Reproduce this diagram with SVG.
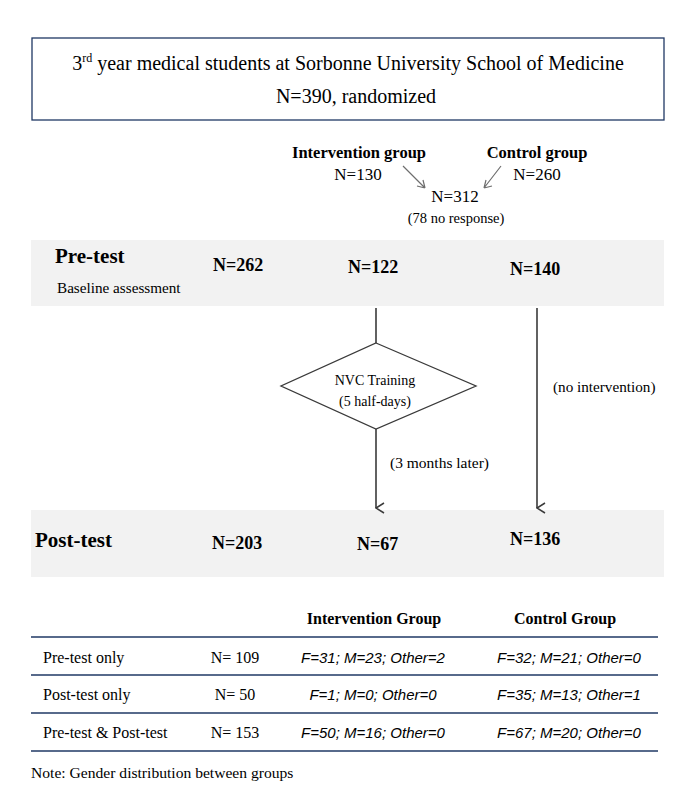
<svg xmlns="http://www.w3.org/2000/svg" width="696" height="811" viewBox="0 0 696 811">
<style>
.s{font-family:"Liberation Serif","Times New Roman",serif;fill:#000}
.b{font-weight:bold}
.i{font-family:"Liberation Sans",Arial,sans-serif;font-style:italic;font-size:15px;fill:#000}
.band{fill:#f2f2f2}
.ln{stroke:#3a3a3a;stroke-width:1.6;fill:none}
.ga{stroke:#6e6e6e;stroke-width:1.2;fill:none}
.rule{stroke:#1f3864;stroke-width:1.3}
</style>
<defs>
<marker id="v" viewBox="0 0 12 10" refX="6" refY="9" markerWidth="12" markerHeight="10" markerUnits="userSpaceOnUse" orient="auto-start-reverse">
<path d="M1,1 L6,9 L11,1" fill="none" stroke="#3a3a3a" stroke-width="1.5"/>
</marker>
</defs>
<rect width="696" height="811" fill="#fff"/>
<g id="top">
<rect x="32" y="38" width="632" height="82" fill="#fff" stroke="#1f3864" stroke-width="1.3"/>
<text class="s" x="348" y="70" font-size="20" text-anchor="middle">3<tspan font-size="12" dy="-8">rd</tspan><tspan dy="8"> year medical students at Sorbonne University School of Medicine</tspan></text>
<text class="s" x="356" y="103" font-size="20" text-anchor="middle">N=390, randomized</text>
</g>
<g id="groups">
<text class="s b" x="359" y="158" font-size="16.5" text-anchor="middle">Intervention group</text>
<text class="s" x="358" y="180" font-size="17" text-anchor="middle">N=130</text>
<text class="s b" x="537" y="158" font-size="16.5" text-anchor="middle">Control group</text>
<text class="s" x="537" y="180" font-size="17" text-anchor="middle">N=260</text>
<text class="s" x="455" y="202" font-size="17" text-anchor="middle">N=312</text>
<text class="s" x="456" y="223" font-size="14.5" text-anchor="middle">(78 no response)</text>
</g>
<g id="pretest">
<rect class="band" x="31" y="240" width="633" height="66"/>
<text class="s b" x="55" y="263" font-size="21">Pre-test</text>
<text class="s" x="57" y="293" font-size="15.2">Baseline assessment</text>
<text class="s b" x="213" y="271" font-size="18">N=262</text>
<text class="s b" x="348" y="273" font-size="18">N=122</text>
<text class="s b" x="510" y="275" font-size="18">N=140</text>
</g>
<g id="training">
<polygon points="376,343 476,386 376,429 281,386" fill="#fff" stroke="#3a3a3a" stroke-width="1.3"/>
<text class="s" x="375" y="385" font-size="14" text-anchor="middle">NVC Training</text>
<text class="s" x="375" y="406" font-size="14" text-anchor="middle">(5 half-days)</text>
</g>
<g id="posttest">
<rect class="band" x="31" y="510" width="633" height="67"/>
<text class="s b" x="35" y="547" font-size="21">Post-test</text>
<text class="s b" x="212" y="549" font-size="18">N=203</text>
<text class="s b" x="357" y="550" font-size="18">N=67</text>
<text class="s b" x="510" y="545" font-size="18">N=136</text>
</g>
<g id="connectors">
<path class="ga" d="M403,166 L425,188 M425,188 L423,180 M425,188 L417,186"/>
<path class="ga" d="M501,166 L484,188 M484,188 L492,186 M484,188 L486,180"/>
<line class="ln" x1="376" y1="308" x2="376" y2="343"/>
<line class="ln" x1="376" y1="429" x2="376" y2="508" marker-end="url(#v)"/>
<line class="ln" x1="537" y1="308" x2="537" y2="508" marker-end="url(#v)"/>
<text class="s" x="390" y="468" font-size="15.5">(3 months later)</text>
<text class="s" x="553" y="392" font-size="15.2">(no intervention)</text>
</g>
<g id="table">
<text class="s b" x="374" y="624" font-size="16" text-anchor="middle">Intervention Group</text>
<text class="s b" x="565" y="624" font-size="16" text-anchor="middle">Control Group</text>
<line class="rule" x1="31" y1="637" x2="658" y2="637"/>
<line class="rule" x1="31" y1="675" x2="658" y2="675"/>
<line class="rule" x1="31" y1="713" x2="658" y2="713"/>
<line class="rule" x1="31" y1="751" x2="658" y2="751"/>
<text class="s" x="43" y="663" font-size="16">Pre-test only</text>
<text class="s" x="235" y="663" font-size="16" text-anchor="middle">N= 109</text>
<text class="i" x="373" y="663" text-anchor="middle">F=31; M=23; Other=2</text>
<text class="i" x="569" y="663" text-anchor="middle">F=32; M=21; Other=0</text>
<text class="s" x="43" y="700" font-size="16">Post-test only</text>
<text class="s" x="235" y="700" font-size="16" text-anchor="middle">N= 50</text>
<text class="i" x="373" y="700" text-anchor="middle">F=1; M=0; Other=0</text>
<text class="i" x="569" y="700" text-anchor="middle">F=35; M=13; Other=1</text>
<text class="s" x="43" y="738" font-size="16">Pre-test &amp; Post-test</text>
<text class="s" x="235" y="738" font-size="16" text-anchor="middle">N= 153</text>
<text class="i" x="373" y="738" text-anchor="middle">F=50; M=16; Other=0</text>
<text class="i" x="569" y="738" text-anchor="middle">F=67; M=20; Other=0</text>
<text class="s" x="31" y="778" font-size="15.6">Note: Gender distribution between groups</text>
</g>
</svg>
